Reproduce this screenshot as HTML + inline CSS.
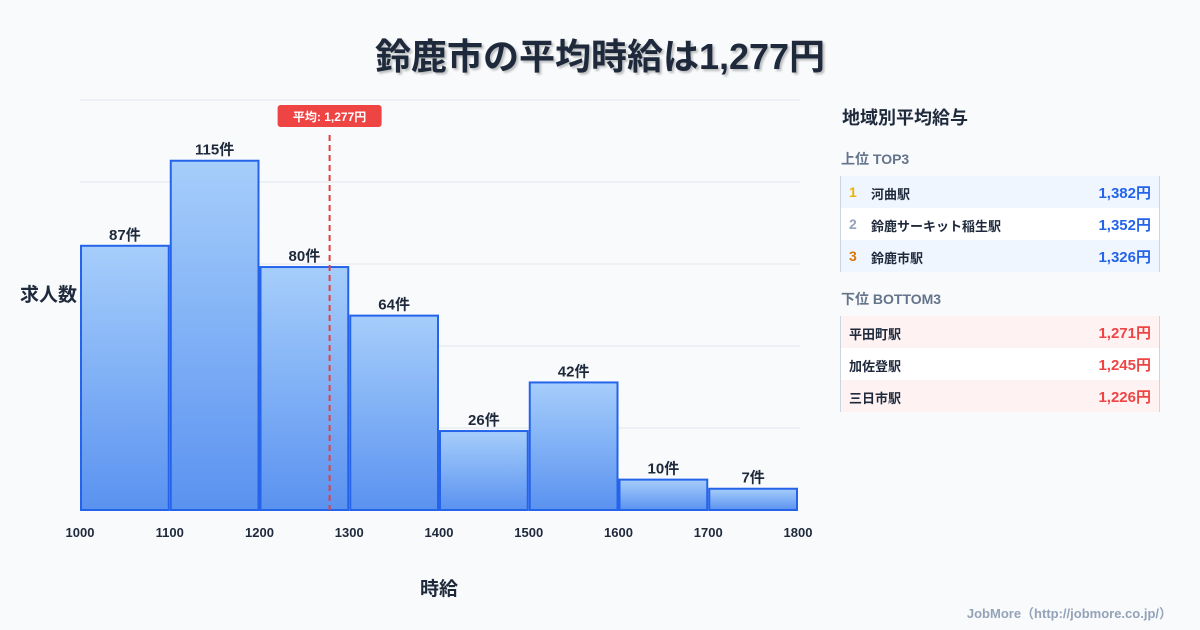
<!DOCTYPE html>
<html><head><meta charset="utf-8"><style>
body{margin:0;width:1200px;height:630px;background:#f8fafc;font-family:"Liberation Sans","Noto Sans CJK JP",sans-serif;position:relative;overflow:hidden;color:#1e293b}
.t{position:absolute;white-space:nowrap}
.row{position:absolute;left:840px;width:320px;height:32px;border-left:1px solid #cbd5e1;border-right:1px solid #cbd5e1;box-sizing:border-box;font-size:13px;font-weight:bold}
.row span{position:absolute;top:8px}
.row .v{right:8px;font-size:15px;top:6px}
</style></head><body>
<div class="t" style="left:0;width:1200px;text-align:center;top:28px;font-size:36px;font-weight:bold;text-shadow:2px 2px 2px rgba(0,0,0,0.25)">鈴鹿市の平均時給は1,277円</div>
<svg id="chart" width="1200" height="630" style="position:absolute;left:0;top:0">
<defs><linearGradient id="g" x1="0" y1="0" x2="0" y2="1"><stop offset="0" stop-color="#a6cefb"/><stop offset="1" stop-color="#5a92f0"/></linearGradient></defs>
</svg>
<div class="t" style="left:20px;top:280px;font-size:19px;font-weight:bold">求人数</div>
<div class="t" style="left:420px;top:574px;font-size:19px;font-weight:bold">時給</div>
<div class="t" style="left:842px;top:104px;font-size:18px;font-weight:bold">地域別平均給与</div>
<div class="t" style="left:841px;top:149px;font-size:14px;font-weight:bold;color:#64748b">上位 TOP3</div>
<div class="row" style="top:176px;background:#eff6ff"><span style="left:8px;color:#eab308;font-size:14px">1</span><span style="left:30px">河曲駅</span><span class="v" style="color:#2563eb">1,382円</span></div>
<div class="row" style="top:208px;background:#fff"><span style="left:8px;color:#94a3b8;font-size:14px">2</span><span style="left:30px">鈴鹿サーキット稲生駅</span><span class="v" style="color:#2563eb">1,352円</span></div>
<div class="row" style="top:240px;background:#eff6ff"><span style="left:8px;color:#d97706;font-size:14px">3</span><span style="left:30px">鈴鹿市駅</span><span class="v" style="color:#2563eb">1,326円</span></div>
<div class="t" style="left:841px;top:289px;font-size:14px;font-weight:bold;color:#64748b">下位 BOTTOM3</div>
<div class="row" style="top:316px;background:#fef2f2"><span style="left:8px">平田町駅</span><span class="v" style="color:#ef4444">1,271円</span></div>
<div class="row" style="top:348px;background:#fff"><span style="left:8px">加佐登駅</span><span class="v" style="color:#ef4444">1,245円</span></div>
<div class="row" style="top:380px;background:#fef2f2"><span style="left:8px">三日市駅</span><span class="v" style="color:#ef4444">1,226円</span></div>
<div class="t" style="right:28px;top:603px;font-size:13px;font-weight:bold;color:#94a3b8">JobMore（http://jobmore.co.jp/）</div>
<script>
const binStarts=[1000,1100,1200,1300,1400,1500,1600,1700];
const counts=[87,115,80,64,26,42,10,7];
const xTicks=[1000,1100,1200,1300,1400,1500,1600,1700,1800];
const yTicks=[0,27,54,81,108,135];
const avgWage=1277;
const avgLabel="平均: 1,277円";
const NS="http://www.w3.org/2000/svg";
const svg=document.getElementById('chart');
const X=v=>80+(v-1000)*(718/800);
const Y=v=>510-v*(410/135);
function mk(t,a){const e=document.createElementNS(NS,t);for(const k in a)e.setAttribute(k,a[k]);svg.appendChild(e);return e;}
yTicks.forEach(t=>{if(t===0)return;const l=mk('line',{x1:80,x2:800,y1:Y(t),y2:Y(t),stroke:'#e2e8f0','stroke-width':1});

});
counts.forEach((c,i)=>{const x0=X(binStarts[i])+1,x1=X(binStarts[i]+100)-1;
const r=mk('rect',{x:x0,y:Y(c),width:x1-x0,height:Y(0)-Y(c),fill:'url(#g)',stroke:'#2563eb','stroke-width':2});


const t=mk('text',{x:(x0+x1)/2,y:Y(c)-6,'text-anchor':'middle','font-size':15,'font-weight':'bold',fill:'#1e293b'});t.textContent=c+'件';

});
xTicks.forEach(v=>{const t=mk('text',{x:X(v),y:537,'text-anchor':'middle','font-size':13,'font-weight':'bold',fill:'#1e293b'});t.textContent=v;

});
const ax=X(avgWage)+1;
const al=mk('line',{x1:ax,x2:ax,y1:135,y2:510,stroke:'#e53e3e','stroke-width':2,'stroke-dasharray':'6,4'});


const ab=mk('rect',{x:ax-52,y:105,width:104,height:22,rx:3,fill:'#ef4444'});


const at=mk('text',{x:ax,y:121,'text-anchor':'middle','font-size':12,'font-weight':'bold',fill:'#fff'});at.textContent=avgLabel;


</script>
</body></html>
